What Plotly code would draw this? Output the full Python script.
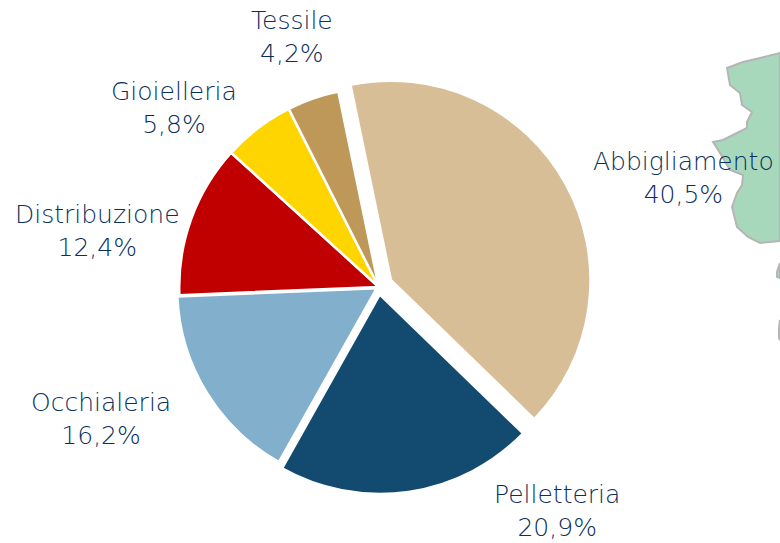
import plotly.graph_objects as go

W, H = 780, 543
categories = ["Abbigliamento", "Pelletteria", "Occhialeria", "Distribuzione", "Gioielleria", "Tessile"]
values = [40.5, 20.9, 16.2, 12.4, 5.8, 4.2]
value_labels = ["40,5%", "20,9%", "16,2%", "12,4%", "5,8%", "4,2%"]
colors = ["#D7BE96", "#134B70", "#82AFCC", "#C00000", "#FFD500", "#BE9858"]
pulls = [0.07, 0.038, 0.012, 0, 0, 0]
label_xy = [(683, 178), (557, 511), (101, 419), (97, 231), (174, 108), (292, 37)]

map_main = [(780,53),(760,58),(743,62),(727,68),(730,85),(740,93),(742,105),(752,112),(747,122),
            (747,128),(733,135),(723,140),(713,142),(720,153),(730,170),(743,175),(742,185),
            (737,193),(732,207),(737,227),(748,237),(760,243),(780,241)]
map_small = [(780,263),(777,272),(777,277),(780,278)]
map_sliver = [(780,320),(779,328),(779,338),(780,340)]

def path(pts):
    return "M" + " L".join(f"{x/W:.4f} {1-y/H:.4f}" for x, y in pts) + " Z"

fig = go.Figure(go.Pie(
    labels=categories, values=values, sort=False, direction="clockwise", rotation=-11.7,
    pull=pulls, textinfo="none", hoverinfo="label+percent",
    marker=dict(colors=colors, line=dict(color="white", width=2.5)),
    domain=dict(x=[164.5/W, 593/W], y=[1-500.5/H, 1-73.5/H]),
    showlegend=False,
))

shapes = [dict(type="path", xref="paper", yref="paper", path=path(p), fillcolor="#A8D8BC",
               line=dict(color="#B5B5B5", width=2), layer="below") for p in (map_main, map_small, map_sliver)]

annotations = [dict(x=x/W, y=1-y/H, xref="paper", yref="paper", text=f"{c}<br>{v}", showarrow=False,
                    xanchor="center", yanchor="middle", align="center",
                    font=dict(family="DejaVu Sans ExtraLight, DejaVu Sans Light, DejaVu Sans", size=25, color="#0A2F5C"))
               for c, v, (x, y) in zip(categories, value_labels, label_xy)]

fig.update_layout(width=W, height=H, margin=dict(l=0, r=0, t=0, b=0), paper_bgcolor="white",
                  plot_bgcolor="white", shapes=shapes, annotations=annotations)
fig.write_html("out.html", config=dict(displayModeBar=False),
               post_script="document.body.style.margin='0';document.documentElement.style.overflow='hidden';")
